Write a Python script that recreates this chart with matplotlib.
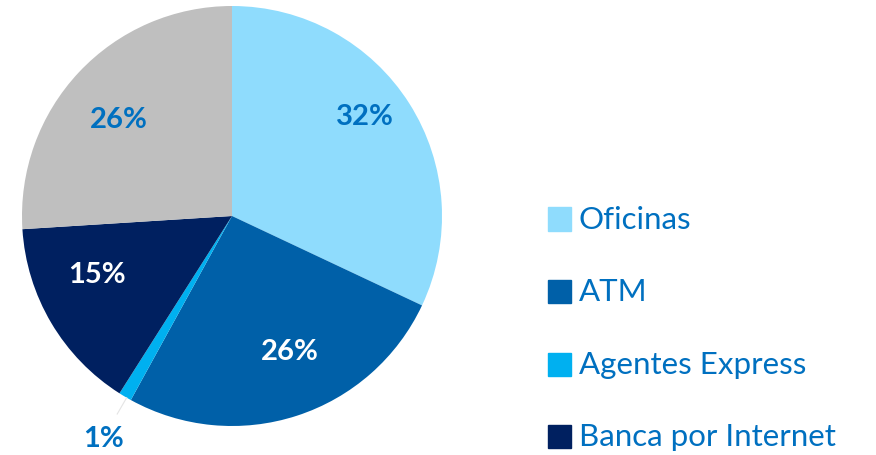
import numpy as np
import matplotlib
matplotlib.use("Agg")
import matplotlib.pyplot as plt
from matplotlib.patches import Rectangle

plt.rcParams['font.family'] = ['Lato', 'DejaVu Sans']

# data
labels = ['Oficinas', 'ATM', 'Agentes Express', 'Banca por Internet', 'Otros']
values = [32, 26, 1, 15, 26]
colors = ['#8FDCFD', '#0060A8', '#00B0F0', '#002060', '#BFBFBF']
pct_colors = ['#0070C0', 'white', '#0070C0', 'white', '#0070C0']
# label placement (radius fraction, angle nudge in degrees)
pct_dist = [0.79, 0.70, 1.22, 0.70, 0.71]
pct_nudge = [4.5, 5, 0.5, -7.3, 2.8]
legend_labels = labels[:4]

fig = plt.figure(figsize=(8.76, 4.56), dpi=100)
ax = fig.add_axes([22 / 876, 29 / 456, 420 / 876, 420 / 456])

wedges, _ = ax.pie(values, colors=colors, startangle=90, counterclock=False,
                   radius=1.0, wedgeprops=dict(linewidth=0))
ax.set_xlim(-1, 1)
ax.set_ylim(-1, 1)
ax.set_aspect('equal')

for w, v, d, n, c in zip(wedges, values, pct_dist, pct_nudge, pct_colors):
    ang = np.deg2rad((w.theta1 + w.theta2) / 2 + n)
    x, y = d * np.cos(ang), d * np.sin(ang)
    ax.text(x, y, f'{v}%', ha='center', va='center', fontsize=21,
            fontweight='bold', color=c, clip_on=False)
    if d > 1:
        # faint leader line for the small slice
        ax.plot([1.0 * np.cos(ang), 1.09 * np.cos(ang)],
                [1.0 * np.sin(ang), 1.09 * np.sin(ang)],
                color='#E4E4E4', lw=0.8, clip_on=False)

# legend drawn by hand
ys = [220, 292, 365, 437]
for lab, col, yy in zip(legend_labels, colors, ys):
    fy = 1 - yy / 456
    fig.patches.append(Rectangle((548 / 876, fy - 11.5 / 456), 23 / 876, 23 / 456,
                                 transform=fig.transFigure, color=col))
    fig.text(579 / 876, fy, lab, ha='left', va='center', fontsize=22.5,
             color='#0070C0')

fig.savefig('out.png', dpi=100)
